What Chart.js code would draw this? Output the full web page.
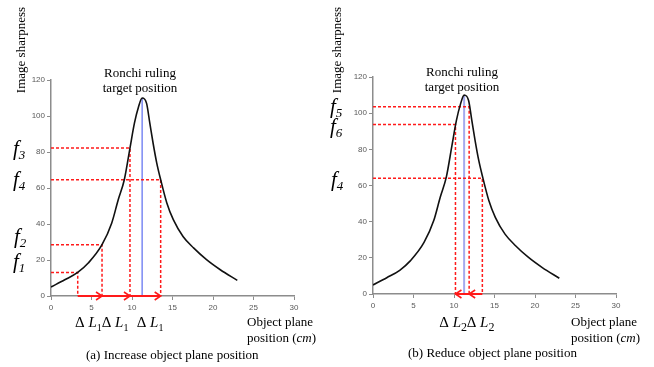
<!DOCTYPE html>
<html>
<head>
<meta charset="utf-8">
<script src="https://cdn.jsdelivr.net/npm/chart.js@4.4.1/dist/chart.umd.min.js"></script>
<style>
  html, body { margin: 0; padding: 0; background: #fff; }
  #wrap { position: relative; width: 654px; height: 367px; overflow: hidden; }
  .panel { position: absolute; top: 0; width: 327px; height: 367px; }
</style>
</head>
<body>
<div id="wrap">
  <div class="panel" style="left:0"><canvas id="chartA" width="327" height="367"></canvas></div>
  <div class="panel" style="left:327px"><canvas id="chartB" width="327" height="367"></canvas></div>
</div>
<script>
// Focus curve: image sharpness against object plane position (cm)
const curveX = [0, 1.7, 3.3, 4.6, 6.3, 7.5, 8.3, 9.05, 9.75, 10.3, 10.8, 11.25, 11.8, 12.2, 12.6, 13.05, 13.54, 14.3, 15.1, 16.3, 17.6, 19.2, 20.9, 23];
const curveY = [5, 9, 13.1, 18.3, 28.5, 40.6, 53.5, 64.6, 82.2, 96, 105, 110, 107, 96, 85, 74, 64.6, 51.7, 42.4, 33.1, 26.7, 20.2, 14.6, 8.7];

// Ronchi ruling target position (peak of the curve)
const peakX = [11.25];
const peakY = [110];

// Axis ticks
const xTicks = [0, 5, 10, 15, 20, 25, 30];
const yTicks = [0, 20, 40, 60, 80, 100, 120];

// (a) increasing the object plane position: sharpness readings f1..f4
const guideNamesA = ['3', '4', '2', '1'];
const guideXA = [9.75, 13.54, 6.3, 3.3];
const guideYA = [82.2, 64.6, 28.5, 13.1];
const stepsA = [3.3, 6.3, 9.75, 13.54];

// (b) reducing the object plane position: readings f5, f6, f4
const guideNamesB = ['5', '6', '4'];
const guideXB = [11.87, 10.18, 13.5];
const guideYB = [103.5, 93.8, 64];
const stepsB = [13.5, 11.87, 10.18];

const SERIF = "'Liberation Serif', 'Times New Roman', serif";
const RED = '#ff1a1a';

// draw a run of differently styled text pieces one after another
function drawRuns(ctx, x, y, runs) {
  let cx = x;
  for (const r of runs) {
    ctx.font = r.font;
    ctx.fillText(r.t, cx, y + (r.dy || 0));
    cx += ctx.measureText(r.t).width;
  }
}

const annotPlugin = {
  id: 'annot',
  afterDatasetsDraw(chart, args, o) {
    const ctx = chart.ctx;
    const xs = chart.scales.x, ys = chart.scales.y;
    ctx.save();

    // arrowheads on the step arrows along the axis
    ctx.strokeStyle = RED;
    ctx.lineWidth = 1.6;
    const y0 = ys.getPixelForValue(0);
    for (let i = 1; i < o.steps.length; i++) {
      const px = xs.getPixelForValue(o.steps[i]);
      const dir = Math.sign(o.steps[i] - o.steps[i - 1]);
      ctx.beginPath();
      ctx.moveTo(px - dir * 6, y0 - 4);
      ctx.lineTo(px, y0);
      ctx.lineTo(px - dir * 6, y0 + 4);
      ctx.stroke();
    }

    ctx.fillStyle = '#000';
    ctx.textBaseline = 'alphabetic';

    // vertical axis title
    ctx.save();
    ctx.translate(o.yTitle[0], o.yTitle[1]);
    ctx.rotate(-Math.PI / 2);
    ctx.textAlign = 'center';
    ctx.textBaseline = 'middle';
    ctx.font = '13px ' + SERIF;
    ctx.fillText('Image sharpness', 0, 0);
    ctx.restore();

    // peak caption
    ctx.textAlign = 'center';
    ctx.font = '13px ' + SERIF;
    ctx.fillText('Ronchi ruling', o.peakText[0], o.peakText[1]);
    ctx.fillText('target position', o.peakText[0], o.peakText[1] + 15);

    // f labels
    ctx.textAlign = 'left';
    o.names.forEach((n, i) => {
      const [lx, ly] = o.fPos[i];
      drawRuns(ctx, lx, ly, [
        { t: 'f', font: 'italic 21px ' + SERIF },
        { t: n, font: 'italic 13px ' + SERIF, dy: 4 }
      ]);
    });

    // step labels under the axis
    o.deltas.forEach(dx => {
      drawRuns(ctx, dx, o.deltaY, [
        { t: '\u0394 ', font: '15px ' + SERIF },
        { t: 'L', font: 'italic 15px ' + SERIF },
        { t: o.sub, font: o.subFont + ' ' + SERIF, dy: 4 }
      ]);
    });

    // horizontal axis title
    ctx.font = '13px ' + SERIF;
    ctx.fillText('Object plane', o.xTitle[0], o.xTitle[1]);
    drawRuns(ctx, o.xTitle[0], o.xTitle[1] + 16, [
      { t: 'position (', font: '13px ' + SERIF },
      { t: 'cm', font: 'italic 13px ' + SERIF },
      { t: ')', font: '13px ' + SERIF }
    ]);

    // panel caption
    ctx.font = '13px ' + SERIF;
    ctx.fillText(o.caption, o.capPos[0], o.capPos[1]);

    ctx.restore();
  }
};

function guideSet(gx, gy) {
  return gx.map((x, i) => ({
    data: [{ x: 0, y: gy[i] }, { x: x, y: gy[i] }, { x: x, y: 0 }],
    borderColor: RED,
    borderWidth: 1.5,
    borderDash: [3, 2],
    pointRadius: 0,
    tension: 0,
    clip: false,
    order: 2
  }));
}

function makeChart(id, cfg) {
  const curve = curveX.map((x, i) => ({ x, y: curveY[i] }));
  const datasets = [
    {
      data: curve,
      borderColor: '#111',
      borderWidth: 1.6,
      pointRadius: 0,
      cubicInterpolationMode: 'monotone',
      order: 1
    },
    ...guideSet(cfg.gx, cfg.gy),
    {
      data: [{ x: peakX[0], y: 0 }, { x: peakX[0], y: peakY[0] }],
      borderColor: cfg.blue,
      borderWidth: cfg.blueWidth,
      pointRadius: 0,
      order: 3
    },
    {
      data: cfg.steps.map(x => ({ x, y: 0 })),
      borderColor: RED,
      borderWidth: 2,
      pointRadius: 0,
      clip: false,
      order: 0
    }
  ];

  const tickFont = { family: "'Liberation Sans', Arial, sans-serif", size: 8 };
  const axisGrid = { display: true, drawOnChartArea: false, drawTicks: true, tickLength: 4, color: '#8c8c8c' };
  const axisBorder = { display: true, color: '#8c8c8c', width: 1.5 };

  return new Chart(document.getElementById(id), {
    type: 'line',
    data: { datasets },
    options: {
      responsive: false,
      animation: false,
      events: [],
      layout: { padding: cfg.padding },
      plugins: {
        legend: { display: false },
        tooltip: { enabled: false },
        annot: cfg.annot
      },
      scales: {
        x: {
          type: 'linear',
          min: 0, max: 30,
          afterBuildTicks: s => { s.ticks = xTicks.map(v => ({ value: v })); },
          afterFit: s => { s.height = 20; },
          ticks: { font: tickFont, color: '#595959', padding: 3, maxRotation: 0 },
          grid: axisGrid,
          border: axisBorder
        },
        y: {
          type: 'linear',
          min: 0, max: 120,
          afterBuildTicks: s => { s.ticks = yTicks.map(v => ({ value: v })); },
          afterFit: s => { s.width = 20; },
          ticks: { font: tickFont, color: '#595959', padding: 2 },
          grid: axisGrid,
          border: axisBorder
        }
      }
    },
    plugins: [annotPlugin]
  });
}

makeChart('chartA', {
  gx: guideXA, gy: guideYA, steps: stepsA,
  blue: '#5b6cf0', blueWidth: 1.2,
  padding: { left: 31, right: 33, top: 80, bottom: 51 },
  annot: {
    steps: stepsA,
    names: guideNamesA,
    fPos: [[13, 155], [13, 186], [14, 243], [13, 268]],
    yTitle: [22, 50],
    peakText: [140, 77],
    deltas: [75, 101.7, 136.7],
    deltaY: 327,
    sub: '1', subFont: '10px',
    xTitle: [247, 326],
    caption: '(a) Increase object plane position',
    capPos: [86, 359]
  }
});

makeChart('chartB', {
  gx: guideXB, gy: guideYB, steps: stepsB,
  blue: '#a4aaee', blueWidth: 2,
  padding: { left: 26, right: 38, top: 77, bottom: 53 },
  annot: {
    steps: stepsB,
    names: guideNamesB,
    fPos: [[3, 113], [3, 133], [4, 186]],
    yTitle: [10.5, 50],
    peakText: [135, 76],
    deltas: [112.3, 139.7],
    deltaY: 327,
    sub: '2', subFont: '12px',
    xTitle: [244, 326],
    caption: '(b) Reduce object plane position',
    capPos: [81, 357]
  }
});
</script>
</body>
</html>
